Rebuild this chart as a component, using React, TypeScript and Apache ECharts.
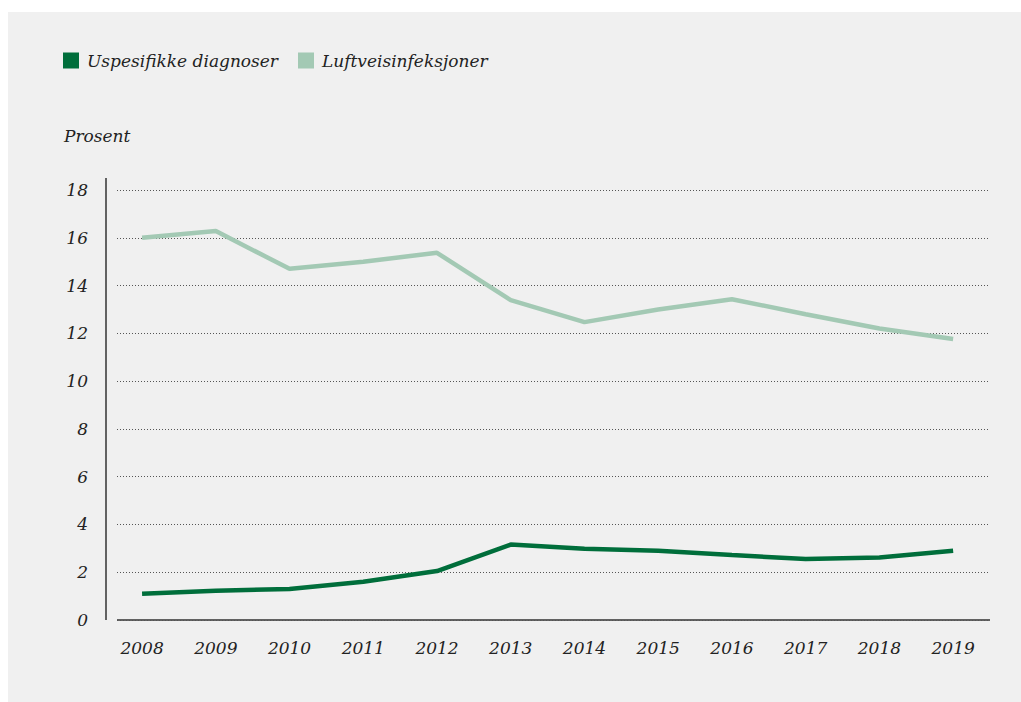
import React, { useEffect, useRef } from "react";
import * as echarts from "echarts";

const years = [2008, 2009, 2010, 2011, 2012, 2013, 2014, 2015, 2016, 2017, 2018, 2019];
const uspesifikke = [1.1, 1.22, 1.3, 1.6, 2.05, 3.16, 2.98, 2.9, 2.72, 2.55, 2.62, 2.9];
const luftveis = [16.0, 16.28, 14.7, 15.0, 15.37, 13.39, 12.47, 13.0, 13.43, 12.8, 12.2, 11.76];
const yTicks = [0, 2, 4, 6, 8, 10, 12, 14, 16, 18];
const seriesNames = ["Uspesifikke diagnoser", "Luftveisinfeksjoner"];
const colors = ["#006e3b", "#a3c9b4"];

const FONT = "DejaVu Serif";

export default function App() {
  const ref = useRef<HTMLDivElement>(null);
  useEffect(() => {
    if (!ref.current) return;
    const chart = echarts.init(ref.current, null, { renderer: "svg" });
    chart.setOption({
      animation: false,
      backgroundColor: "#ffffff",
      graphic: [
        { type: "rect", z: -10, shape: { x: 8, y: 12, width: 1013, height: 690 }, style: { fill: "#f0f0f0" } },
        { type: "line", shape: { x1: 106, y1: 178, x2: 106, y2: 620 }, style: { stroke: "#333", lineWidth: 1.5 } },
        { type: "line", shape: { x1: 117, y1: 620, x2: 990, y2: 620 }, style: { stroke: "#333", lineWidth: 1.5 } },
        {
          type: "text",
          left: 64,
          top: 127,
          style: { text: "Prosent", font: `italic 17px "${FONT}"`, fill: "#222" },
        },
      ],
      legend: {
        left: 63,
        top: 52,
        padding: 0,
        icon: "rect",
        itemWidth: 16,
        itemHeight: 16,
        itemGap: 20,
        textStyle: { fontFamily: FONT, fontStyle: "italic", fontSize: 17, color: "#222", padding: [0, 0, 0, 3] },
        data: seriesNames,
      },
      grid: { left: 117, right: 31, top: 190, bottom: 82, containLabel: false },
      xAxis: {
        type: "value",
        min: 2007.66,
        max: 2019.5,
        axisLine: { show: false },
        axisTick: { show: false },
        splitLine: { show: false },
        axisLabel: {
          customValues: years,
          formatter: (v: number) => String(Math.round(v)),
          fontFamily: FONT,
          fontStyle: "italic",
          fontSize: 17,
          color: "#222",
          margin: 19,
        },
      },
      yAxis: {
        type: "value",
        min: 0,
        max: 18,
        interval: 2,
        axisLine: { show: false },
        axisTick: { show: false },
        axisLabel: {
          fontFamily: FONT,
          fontStyle: "italic",
          fontSize: 17,
          color: "#222",
          margin: 29,
          formatter: (v: number) => (yTicks.includes(v) ? String(v) : ""),
        },
        splitLine: {
          show: true,
          lineStyle: { color: "#555", width: 1, type: [1, 2] },
        },
      },
      series: [
        {
          name: seriesNames[0],
          type: "line",
          data: years.map((y, i) => [y, uspesifikke[i]]),
          showSymbol: false,
          symbol: "none",
          itemStyle: { color: colors[0] },
          lineStyle: { color: colors[0], width: 4.5 },
        },
        {
          name: seriesNames[1],
          type: "line",
          data: years.map((y, i) => [y, luftveis[i]]),
          showSymbol: false,
          symbol: "none",
          itemStyle: { color: colors[1] },
          lineStyle: { color: colors[1], width: 4.5 },
        },
      ],
    });
    return () => chart.dispose();
  }, []);
  return <div ref={ref} style={{ position: "fixed", left: 0, top: 0, width: 1021, height: 702 }} />;
}
